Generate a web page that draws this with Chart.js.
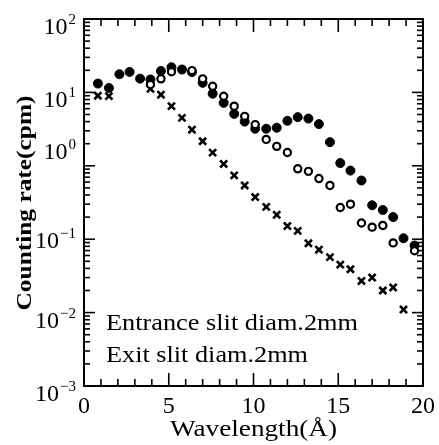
<!DOCTYPE html>
<html lang="en">
<head>
  <meta charset="UTF-8">
  <title>Counting rate vs wavelength</title>
  <script src="https://cdn.jsdelivr.net/npm/chart.js"></script>
  <style>
    body { margin: 0; background: #fff; }
    canvas { display: block; }
  </style>
</head>
<body>
  <canvas id="rateChart" width="439" height="445"></canvas>

  <script>
    // values
    const wavelength = [0.82, 1.47, 2.09, 2.69, 3.31, 3.92, 4.54, 5.16, 5.78, 6.37, 7.00, 7.59, 8.24, 8.86, 9.48,
      10.10, 10.75, 11.37, 12.00, 12.61, 13.24, 13.86, 14.51, 15.12, 15.72, 16.37, 17.00, 17.63, 18.24, 18.85, 19.50];
    const filledRate = [13.2, 11.5, 17.7, 19.0, 15.4, 15.0, 19.6, 22.0, 20.5, 18.9, 13.5, 9.6, 7.2, 5.1, 4.0,
      3.2, 3.2, 3.3, 4.1, 4.6, 4.4, 3.7, 2.1, 1.09, 0.86, 0.63, 0.29, 0.25, 0.20, 0.103, 0.082];
    const openRate = [null, null, null, null, null, 12.8, 15.3, 19.1, null, 19.8, 15.3, 12.1, 8.85, 6.5, 4.72,
      3.64, 2.29, 1.84, 1.52, 0.91, 0.84, 0.67, 0.54, 0.27, 0.30, 0.166, 0.146, 0.154, 0.089, null, 0.0695];
    const crossRate = [9.0, 8.9, null, null, null, 11.2, 9.3, 6.5, 4.5, 3.1, 2.16, 1.51, 1.06, 0.74, 0.54,
      0.375, 0.276, 0.215, 0.151, 0.130, 0.088, 0.072, 0.057, 0.045, 0.039, 0.027, 0.030, 0.020, 0.022, 0.011, null];
    const xTicks = [0, 5, 10, 15, 20];
    const yExponents = [2, 1, 0, -1, -2, -3];
    const notes = ['Entrance slit diam.2mm', 'Exit slit diam.2mm'];

    function points(vals) {
      return wavelength.map((x, i) => ({ x: x, y: vals[i] })).filter(p => p.y !== null);
    }

    const SERIF = '"Liberation Serif", "DejaVu Serif", serif';

    // text stretched sideways to a given width (the scan uses a wider face)
    function wideText(ctx, text, x, y, width, align) {
      const w = ctx.measureText(text).width;
      const k = width / w;
      ctx.save();
      ctx.translate(x, y);
      ctx.scale(k, 1);
      ctx.textAlign = align;
      ctx.fillText(text, 0, 0);
      ctx.restore();
    }

    // box, inward ticks on all four sides, labels and notes
    const frame = {
      id: 'frame',
      afterDraw(chart) {
        const ctx = chart.ctx;
        const a = chart.chartArea;
        const xs = chart.scales.x, ys = chart.scales.y;
        const line = (x1, y1, x2, y2) => { ctx.beginPath(); ctx.moveTo(x1, y1); ctx.lineTo(x2, y2); ctx.stroke(); };
        ctx.save();
        ctx.strokeStyle = '#000';
        ctx.fillStyle = '#000';
        ctx.lineWidth = 2;
        ctx.strokeRect(a.left, a.top, a.right - a.left, a.bottom - a.top);

        ctx.lineWidth = 1.6;
        for (let v = 0; v <= 20; v++) {
          const px = xs.getPixelForValue(v);
          const len = v % 5 === 0 ? 13 : 7;
          line(px, a.bottom, px, a.bottom - len);
          line(px, a.top, px, a.top + len);
        }
        for (let e = -3; e <= 2; e++) {
          for (let m = 1; m <= 9; m++) {
            if (e === 2 && m > 1) break;
            const py = ys.getPixelForValue(m * Math.pow(10, e));
            const len = m === 1 ? 11 : 6;
            line(a.left, py, a.left + len, py);
            line(a.right, py, a.right - len, py);
          }
        }

        // x tick labels
        ctx.font = '24px ' + SERIF;
        ctx.textAlign = 'center';
        ctx.textBaseline = 'alphabetic';
        xTicks.forEach(v => ctx.fillText(String(v), xs.getPixelForValue(v), a.bottom + 27));

        // y tick labels: 10 with a raised exponent
        yExponents.forEach(e => {
          const py = ys.getPixelForValue(Math.pow(10, e));
          const nudge = e === 0 ? -22 : (e === -1 ? -6 : 0);
          const exp = String(e).replace('-', '\u2212');
          ctx.textAlign = 'right';
          ctx.font = '15px ' + SERIF;
          const ew = ctx.measureText(exp).width;
          ctx.fillText(exp, a.left - 8, py + 5 + nudge);
          ctx.font = '24px ' + SERIF;
          ctx.fillText('10', a.left - 9 - ew, py + 15 + nudge);
        });

        // axis titles
        ctx.font = '24px ' + SERIF;
        wideText(ctx, 'Wavelength(\u00C5)', (a.left + a.right) / 2, 436, 167, 'center');
        ctx.save();
        ctx.translate(31, 203);
        ctx.rotate(-Math.PI / 2);
        ctx.font = 'bold 22px ' + SERIF;
        wideText(ctx, 'Counting rate(cpm)', 0, 0, 215, 'center');
        ctx.restore();

        // notes inside the plot
        ctx.font = '23px ' + SERIF;
        wideText(ctx, notes[0], a.left + 22, a.bottom - 56, 252, 'left');
        wideText(ctx, notes[1], a.left + 22, a.bottom - 24, 202, 'left');
        ctx.restore();
      }
    };

    const ctx = document.getElementById('rateChart').getContext('2d');
    const rateChart = new Chart(ctx, {
      type: 'scatter',
      data: {
        datasets: [
          {
            label: 'open',
            data: points(openRate),
            pointStyle: 'circle',
            pointRadius: 3.6,
            backgroundColor: '#fff',
            borderColor: '#000',
            borderWidth: 2.2,
            order: 0
          },
          {
            label: 'filled',
            data: points(filledRate),
            pointStyle: 'circle',
            pointRadius: 4.5,
            backgroundColor: '#000',
            borderColor: '#000',
            borderWidth: 1,
            order: 1
          },
          {
            label: 'cross',
            data: points(crossRate),
            pointStyle: 'crossRot',
            pointRadius: 5,
            borderColor: '#000',
            borderWidth: 2.6,
            order: 2
          }
        ]
      },
      options: {
        responsive: false,
        animation: false,
        clip: false,
        layout: { padding: { top: 19, right: 16, left: 0, bottom: 0 } },
        plugins: { legend: { display: false }, tooltip: { enabled: false } },
        scales: {
          x: {
            type: 'linear',
            min: 0,
            max: 20,
            grid: { display: false },
            border: { display: false },
            ticks: { display: false },
            afterFit: s => { s.height = 59; }
          },
          y: {
            type: 'logarithmic',
            min: 0.001,
            max: 100,
            grid: { display: false },
            border: { display: false },
            ticks: { display: false },
            afterFit: s => { s.width = 84; }
          }
        }
      },
      plugins: [frame]
    });
  </script>
</body>
</html>
